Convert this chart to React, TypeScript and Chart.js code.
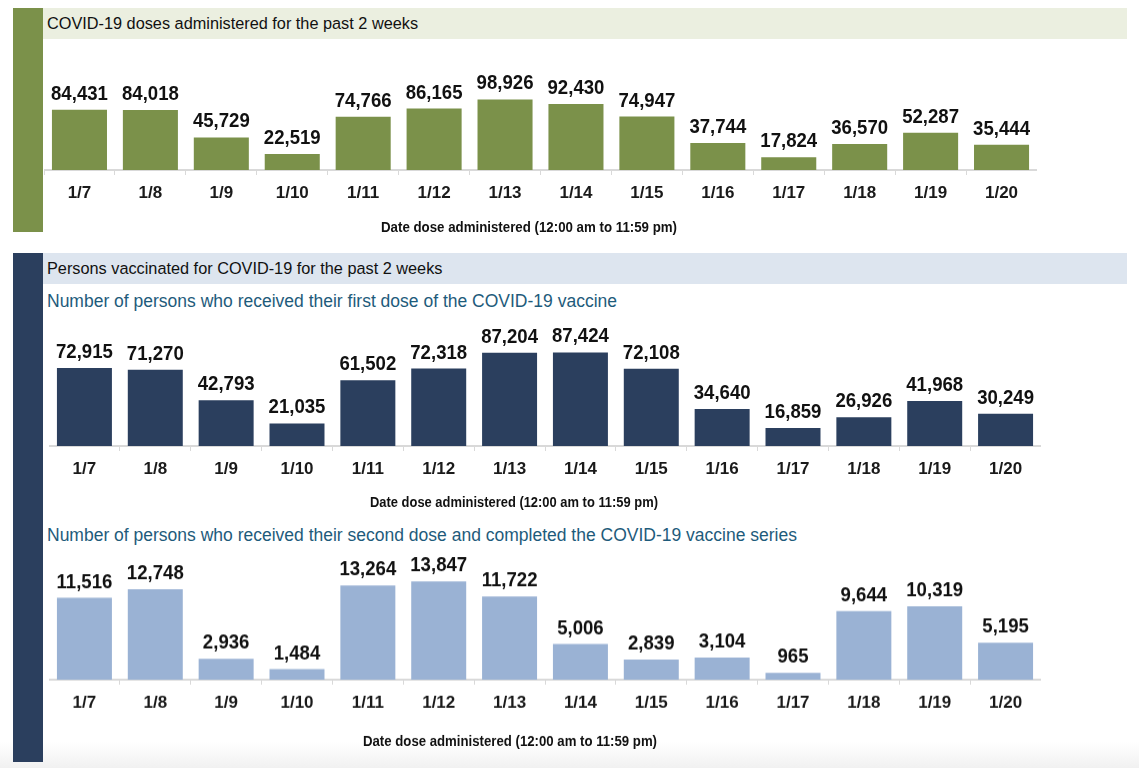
import React, { useEffect, useRef } from "react";
import { Chart, registerables } from "chart.js";

Chart.register(...registerables);

const dates = ["1/7", "1/8", "1/9", "1/10", "1/11", "1/12", "1/13", "1/14", "1/15", "1/16", "1/17", "1/18", "1/19", "1/20"];
const dosesAdministered = [84431, 84018, 45729, 22519, 74766, 86165, 98926, 92430, 74947, 37744, 17824, 36570, 52287, 35444];
const firstDoses = [72915, 71270, 42793, 21035, 61502, 72318, 87204, 87424, 72108, 34640, 16859, 26926, 41968, 30249];
const secondDoses = [11516, 12748, 2936, 1484, 13264, 13847, 11722, 5006, 2839, 3104, 965, 9644, 10319, 5195];

const header1 = "COVID-19 doses administered for the past 2 weeks";
const header2 = "Persons vaccinated for COVID-19 for the past 2 weeks";
const subtitle1 = "Number of persons who received their first dose of the COVID-19 vaccine";
const subtitle2 = "Number of persons who received their second dose and completed the COVID-19 vaccine series";
const xAxisTitle = "Date dose administered (12:00 am to 11:59 pm)";

const FONT = "'Liberation Sans', Arial, sans-serif";

const valueLabels = {
  id: "valueLabels",
  afterDatasetsDraw(chart: any) {
    const ctx = chart.ctx;
    const meta = chart.getDatasetMeta(0);
    const data = chart.data.datasets[0].data;
    ctx.save();
    ctx.font = `bold 20px ${FONT}`;
    ctx.fillStyle = "#111111";
    ctx.textAlign = "center";
    ctx.textBaseline = "alphabetic";
    meta.data.forEach((bar: any, i: number) => {
      ctx.save();
      ctx.translate(bar.x, bar.y - 10);
      ctx.scale(0.93, 1);
      ctx.fillText(Number(data[i]).toLocaleString("en-US"), 0, 0);
      ctx.restore();
    });
    ctx.restore();
  },
};

const axisTitle = {
  id: "axisTitle",
  afterDraw(chart: any, _args: any, opts: any) {
    const ctx = chart.ctx;
    ctx.save();
    ctx.font = `bold 15px ${FONT}`;
    ctx.fillStyle = "#111111";
    ctx.textAlign = "center";
    ctx.textBaseline = "middle";
    const w = ctx.measureText(opts.text).width;
    ctx.translate(opts.x, chart.height - opts.bottom);
    ctx.scale(opts.width / w, 1);
    ctx.fillText(opts.text, 0, 0);
    ctx.restore();
  },
};

type BarProps = {
  values: number[];
  color: string;
  max: number;
  left: number;
  top: number;
  width: number;
  padTop: number;
  plotHeight: number;
  axisHeight: number;
  tickPad: number;
  titleX: number;
  titleBottom: number;
  titleWidth: number;
};

function BarChart(p: BarProps) {
  const ref = useRef<HTMLCanvasElement | null>(null);
  const height = p.padTop + p.plotHeight + p.axisHeight;
  useEffect(() => {
    if (!ref.current) return;
    const chart = new Chart(ref.current, {
      type: "bar",
      data: {
        labels: dates,
        datasets: [
          {
            data: p.values,
            backgroundColor: p.color,
            borderWidth: 0,
            barPercentage: 0.776,
            categoryPercentage: 1,
          },
        ],
      },
      options: {
        animation: false,
        responsive: false,
        maintainAspectRatio: false,
        devicePixelRatio: 1,
        layout: { padding: { top: p.padTop, left: 0, right: 0, bottom: 0 } },
        plugins: {
          legend: { display: false },
          tooltip: { enabled: false },
          title: { display: false },
          axisTitle: { text: xAxisTitle, x: p.titleX - p.left, bottom: p.titleBottom, width: p.titleWidth },
        },
        scales: {
          x: {
            grid: {
              display: true,
              drawOnChartArea: false,
              drawTicks: true,
              tickLength: 5,
              color: "#d9d9d9",
              lineWidth: 1,
              offset: true,
            },
            border: { display: true, color: "#d9d9d9", width: 2 },
            ticks: {
              color: "#1a1a1a",
              font: { family: FONT, size: 17, weight: "bold" },
              padding: p.tickPad,
              maxRotation: 0,
              autoSkip: false,
            },
            title: { display: false },
            afterFit: (s: any) => {
              s.height = p.axisHeight;
            },
          },
          y: { display: false, min: 0, max: p.max },
        },
      } as any,
      plugins: [valueLabels, axisTitle],
    });
    return () => chart.destroy();
  }, []);
  return (
    <canvas
      ref={ref}
      width={p.width}
      height={height}
      style={{ position: "absolute", left: p.left, top: p.top, width: p.width, height }}
    />
  );
}

const headerStyle = (top: number, bg: string): React.CSSProperties => ({
  position: "absolute",
  left: 43,
  top,
  width: 1084,
  height: 31,
  background: bg,
  lineHeight: "31px",
  fontSize: 16.3,
  color: "#111",
  paddingLeft: 4,
  boxSizing: "border-box",
  whiteSpace: "nowrap",
});

const subStyle = (top: number): React.CSSProperties => ({
  position: "absolute",
  left: 47,
  top,
  fontSize: 17.5,
  lineHeight: "22px",
  color: "#1E5B7B",
  whiteSpace: "nowrap",
});

export default function App() {
  return (
    <div
      style={{
        position: "absolute",
        left: 0,
        top: 0,
        width: 1139,
        height: 768,
        background: "#ffffff",
        fontFamily: FONT,
        overflow: "hidden",
      }}
    >
      <div style={{ position: "absolute", left: 0, top: 742, width: 1139, height: 26, background: "linear-gradient(#ffffff, #f1f1f1)" }} />
      {/* Section 1 */}
      <div style={{ position: "absolute", left: 13, top: 8, width: 30, height: 224, background: "#7B914A" }} />
      <div style={headerStyle(8, "#EBEFE0")}>{header1}</div>
      <BarChart
        values={dosesAdministered}
        color="#7B914A"
        max={150000}
        left={44}
        top={51}
        width={993}
        padTop={12}
        plotHeight={107}
        axisHeight={70}
        tickPad={8}
        titleX={529}
        titleBottom={12}
        titleWidth={296}
      />
      {/* Section 2 */}
      <div style={{ position: "absolute", left: 13, top: 253, width: 30, height: 509, background: "#2B3F5E" }} />
      <div style={headerStyle(253, "#DDE5EF")}>{header2}</div>
      <div style={subStyle(290)}>{subtitle1}</div>
      <BarChart
        values={firstDoses}
        color="#2B3F5E"
        max={100000}
        left={49}
        top={314}
        width={992}
        padTop={25}
        plotHeight={107}
        axisHeight={70}
        tickPad={8}
        titleX={514}
        titleBottom={13}
        titleWidth={288}
      />
      <div style={subStyle(524)}>{subtitle2}</div>
      <BarChart
        values={secondDoses}
        color="#9AB2D4"
        max={15000}
        left={49}
        top={545}
        width={992}
        padTop={28}
        plotHeight={106.5}
        axisHeight={75}
        tickPad={8}
        titleX={510}
        titleBottom={13}
        titleWidth={294}
      />
    </div>
  );
}
